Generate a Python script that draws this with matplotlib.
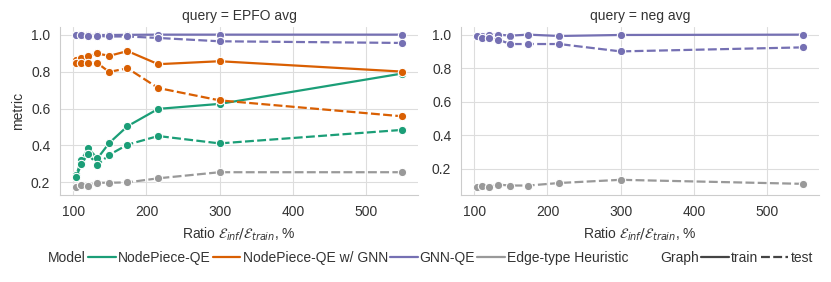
import matplotlib
matplotlib.use("Agg")
import matplotlib.pyplot as plt
from matplotlib.lines import Line2D
import seaborn as sns

# ratio of inference graph edges to training graph edges, %
ratio = [104, 111, 120, 133, 149, 174, 216, 300, 549]

# EPFO avg
epfo_np_train = [0.24, 0.32, 0.385, 0.33, 0.413, 0.504, 0.598, 0.625, 0.789]
epfo_np_test = [0.23, 0.30, 0.353, 0.295, 0.349, 0.404, 0.451, 0.411, 0.484]
epfo_npgnn_train = [0.864, 0.876, 0.882, 0.898, 0.885, 0.911, 0.84, 0.856, 0.80]
epfo_npgnn_test = [0.849, 0.849, 0.849, 0.845, 0.798, 0.818, 0.711, 0.644, 0.558]
epfo_gnn_train = [1.0, 1.0, 0.998, 0.998, 0.998, 0.999, 1.0, 1.0, 1.0]
epfo_gnn_test = [1.0, 1.0, 0.995, 0.993, 0.99, 0.99, 0.982, 0.964, 0.955]
epfo_heur_test = [0.173, 0.185, 0.18, 0.198, 0.198, 0.2, 0.222, 0.255, 0.255]

# neg avg
neg_gnn_train = [0.994, 0.99, 1.0, 1.0, 0.994, 1.0, 0.992, 0.998, 1.0]
neg_gnn_test = [0.99, 0.98, 0.978, 0.97, 0.944, 0.944, 0.944, 0.90, 0.924]
neg_heur_test = [0.089, 0.095, 0.091, 0.105, 0.10, 0.10, 0.115, 0.134, 0.11]

models = ["NodePiece-QE", "NodePiece-QE w/ GNN", "GNN-QE", "Edge-type Heuristic"]
colors = {"NodePiece-QE": "#1b9e77", "NodePiece-QE w/ GNN": "#d95f02",
          "GNN-QE": "#7570b3", "Edge-type Heuristic": "#999999"}

sns.set_style("whitegrid")
plt.rcParams["font.family"] = ["Liberation Sans", "DejaVu Sans"]
plt.rcParams["font.size"] = 10
plt.rcParams["axes.edgecolor"] = "#cccccc"
plt.rcParams["grid.color"] = "#dddddd"
txt = "#333333"

fig = plt.figure(figsize=(8.31, 2.82), dpi=100)
ax1 = fig.add_axes([60 / 831, 87 / 282, 358 / 831, 168 / 282])
ax2 = fig.add_axes([461 / 831, 87 / 282, 358 / 831, 168 / 282])

dash = (0, (4, 1.5))


def draw(ax, model, y, style):
    ax.plot(ratio, y, color=colors[model], lw=1.6,
            linestyle="-" if style == "train" else dash,
            marker="o", markersize=6, markeredgecolor="white", markeredgewidth=0.8)


draw(ax1, "NodePiece-QE", epfo_np_train, "train")
draw(ax1, "NodePiece-QE", epfo_np_test, "test")
draw(ax1, "NodePiece-QE w/ GNN", epfo_npgnn_train, "train")
draw(ax1, "NodePiece-QE w/ GNN", epfo_npgnn_test, "test")
draw(ax1, "GNN-QE", epfo_gnn_train, "train")
draw(ax1, "GNN-QE", epfo_gnn_test, "test")
draw(ax1, "Edge-type Heuristic", epfo_heur_test, "test")

draw(ax2, "GNN-QE", neg_gnn_train, "train")
draw(ax2, "GNN-QE", neg_gnn_test, "test")
draw(ax2, "Edge-type Heuristic", neg_heur_test, "test")

for ax, title in [(ax1, "query = EPFO avg"), (ax2, "query = neg avg")]:
    ax.set_title(title, fontsize=10, color=txt, pad=5)
    ax.set_xlabel(r"Ratio $\mathcal{E}_{inf}/\mathcal{E}_{train}$, %", fontsize=10,
                  color=txt, labelpad=5)
    ax.set_xticks([100, 200, 300, 400, 500])
    ax.set_yticks([0.2, 0.4, 0.6, 0.8, 1.0])
    ax.tick_params(labelsize=10, colors=txt, length=0, pad=7)
    for s in ["top", "right"]:
        ax.spines[s].set_visible(False)
ax1.set_ylabel("metric", fontsize=10, color=txt)

blank = Line2D([], [], color="none")
handles = [blank] + [Line2D([], [], color=colors[m], lw=1.6) for m in models] + [
    blank,
    Line2D([], [], color="#444444", lw=1.6),
    Line2D([], [], color="#444444", lw=1.6, linestyle=dash)]
labels = ["Model"] + models + ["Graph", "train", "test"]
leg = fig.legend(handles, labels, loc="center", bbox_to_anchor=(0.5, 24 / 282), ncol=8,
                 frameon=False, fontsize=10, handlelength=2.0, handletextpad=0.15,
                 columnspacing=0.15, borderpad=0)
for t in leg.get_texts():
    t.set_color(txt)

fig.savefig("out.png", dpi=100)
